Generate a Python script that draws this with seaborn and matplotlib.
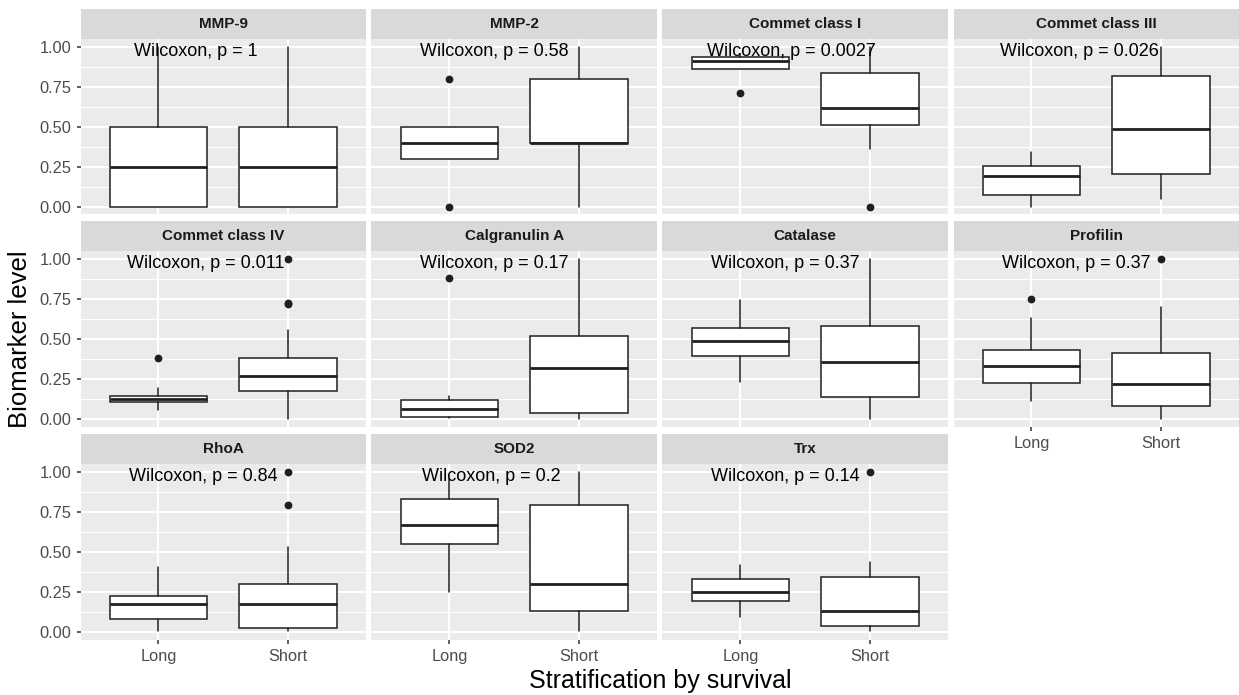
import matplotlib
matplotlib.use("Agg")
import matplotlib.pyplot as plt
from matplotlib.patches import Rectangle
import pandas as pd
import seaborn as sns

# facet order and p-value labels
markers = ["MMP-9", "MMP-2", "Commet class I", "Commet class III",
           "Commet class IV", "Calgranulin A", "Catalase", "Profilin",
           "RhoA", "SOD2", "Trx"]
groups = ["Long", "Short"]
p_labels = ["1", "0.58", "0.0027", "0.026", "0.011", "0.17",
            "0.37", "0.37", "0.84", "0.2", "0.14"]

# box statistics, [Long, Short] per marker
whislo = [[0.0, 0.0], [0.30, 0.0], [0.86, 0.36], [0.0, 0.05],
          [0.055, 0.0], [0.005, 0.0], [0.235, 0.0], [0.11, 0.0],
          [0.005, 0.005], [0.245, 0.005], [0.09, 0.005]]
q1 = [[0.0, 0.0], [0.30, 0.40], [0.86, 0.51], [0.075, 0.205],
      [0.105, 0.175], [0.015, 0.04], [0.395, 0.135], [0.225, 0.08],
      [0.08, 0.025], [0.55, 0.13], [0.19, 0.035]]
med = [[0.25, 0.25], [0.40, 0.40], [0.91, 0.62], [0.19, 0.485],
       [0.125, 0.27], [0.06, 0.32], [0.49, 0.355], [0.33, 0.22],
       [0.17, 0.17], [0.67, 0.30], [0.245, 0.13]]
q3 = [[0.5, 0.5], [0.50, 0.80], [0.935, 0.84], [0.255, 0.82],
      [0.145, 0.385], [0.12, 0.52], [0.57, 0.585], [0.43, 0.415],
      [0.22, 0.30], [0.83, 0.795], [0.33, 0.34]]
whishi = [[1.0, 1.0], [0.50, 1.0], [0.955, 1.0], [0.34, 1.0],
          [0.195, 0.555], [0.145, 1.0], [0.745, 1.0], [0.635, 0.70],
          [0.405, 0.53], [0.955, 1.0], [0.415, 0.435]]
fliers = [[[], []], [[0.0, 0.80], []], [[0.71], [0.0]], [[], []],
          [[0.385], [0.72, 0.73, 1.0]], [[0.885], []], [[], []],
          [[0.75], [1.0]], [[], [0.795, 1.0]], [[], []], [[], [1.0]]]

rows = []
for i, m in enumerate(markers):
    for j, grp in enumerate(groups):
        rows.append({"marker": m, "group": grp, "pos": j + 1,
                     "whislo": whislo[i][j], "q1": q1[i][j], "med": med[i][j],
                     "q3": q3[i][j], "whishi": whishi[i][j],
                     "fliers": fliers[i][j]})
df = pd.DataFrame(rows)

LINE = "#1f1f1f"
W, H = 1239, 695

sns.set_theme(style="darkgrid", rc={
    "axes.facecolor": "#EBEBEB",
    "grid.color": "white",
    "axes.edgecolor": "none",
})
plt.rcParams["font.family"] = ["Liberation Sans", "DejaVu Sans"]


def draw_boxes(data, **kws):
    ax = plt.gca()
    stats = [dict(whislo=r.whislo, q1=r.q1, med=r.med, q3=r.q3,
                  whishi=r.whishi, fliers=r.fliers) for r in data.itertuples()]
    ax.bxp(stats, positions=data["pos"].tolist(), widths=0.75,
           patch_artist=True, showcaps=False, manage_ticks=False,
           boxprops=dict(facecolor="white", edgecolor=LINE, linewidth=1.1),
           medianprops=dict(color=LINE, linewidth=2.0),
           whiskerprops=dict(color=LINE, linewidth=1.1),
           flierprops=dict(marker="o", markerfacecolor=LINE,
                           markeredgecolor=LINE, markersize=4.6))


g = sns.FacetGrid(df, col="marker", col_wrap=4, col_order=markers,
                  height=H / 100 / 3, aspect=(W / 4) / (H / 3))
g.map_dataframe(draw_boxes)
fig = g.figure
fig.set_size_inches(W / 100, H / 100)

ax_h = 175.5
fig.subplots_adjust(left=80.5 / W, right=1.0, top=1 - 39 / H,
                    bottom=1 - 639.5 / H, wspace=5.5 / 285.5, hspace=37 / ax_h)

axes = list(g.axes.flat)
bottom_idx = {7, 8, 9, 10}
for i, ax in enumerate(axes):
    ax.set_title("")
    ax.set_xlabel("")
    ax.set_ylabel("")
    ax.set_xlim(0.4, 2.6)
    ax.set_ylim(-0.05, 1.05)
    ax.set_xticks([1, 2])
    ax.set_xticklabels(groups)
    ax.set_yticks([0, 0.25, 0.5, 0.75, 1.0])
    ax.set_yticklabels(["0.00", "0.25", "0.50", "0.75", "1.00"])
    ax.set_yticks([0.125, 0.375, 0.625, 0.875], minor=True)
    ax.grid(which="major", color="white", linewidth=1.5)
    ax.grid(which="minor", axis="y", color="white", linewidth=0.75)
    ax.set_axisbelow(True)
    for s in ax.spines.values():
        s.set_visible(False)
    ax.tick_params(which="minor", length=0)
    ax.tick_params(which="major", length=3, width=1.1, color="#333333",
                   labelcolor="#4D4D4D", labelsize=11.8, pad=3.5)
    left = i % 4 == 0
    bottom = i in bottom_idx
    ax.tick_params(axis="y", left=left, labelleft=left)
    ax.tick_params(axis="x", bottom=bottom, labelbottom=bottom)

    # strip on top of each panel
    sh = 30 / ax_h
    ax.add_patch(Rectangle((0, 1), 1, sh, transform=ax.transAxes,
                           clip_on=False, facecolor="#D9D9D9", edgecolor="none"))
    ax.text(0.5, 1 + sh / 2, markers[i], transform=ax.transAxes,
            ha="center", va="center", fontsize=11, fontweight="bold",
            color="#1A1A1A")

texts = []
for i, ax in enumerate(axes):
    t = ax.text(1.0, 0.945, f"Wilcoxon, p = {p_labels[i]}", ha="left",
                va="baseline", fontsize=13, color="black", zorder=10)
    texts.append((ax, t))

fig.canvas.draw()
renderer = fig.canvas.get_renderer()
for ax, t in texts:
    bb = t.get_window_extent(renderer)
    px_per_unit = ax.get_window_extent(renderer).width / 2.2
    t.set_x(1.0 - 0.2 * bb.width / px_per_unit)

fig.text(20 / W, 1 - 339 / H, "Biomarker level", rotation=90,
         ha="center", va="center", fontsize=18.5, color="black")
fig.text(660 / W, 1 - 681 / H, "Stratification by survival",
         ha="center", va="center", fontsize=18, color="black")

fig.savefig("out.png", dpi=100)
